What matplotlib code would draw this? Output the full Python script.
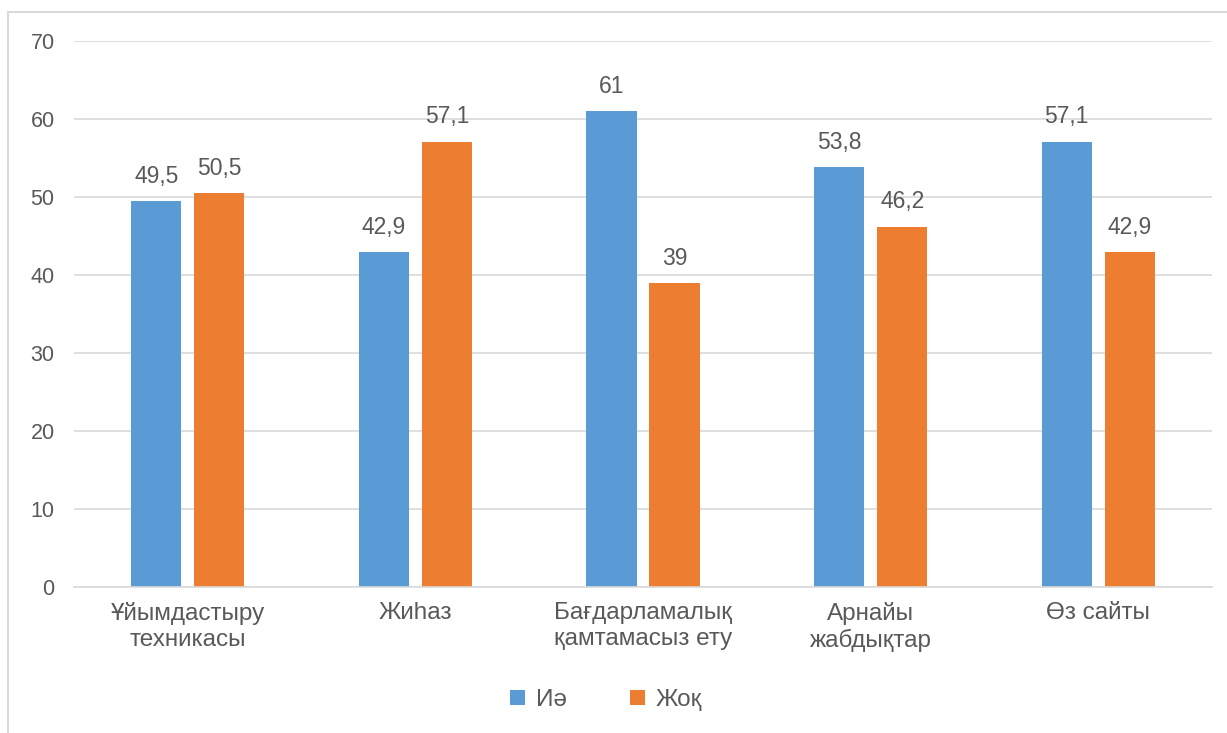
import numpy as np
import matplotlib.pyplot as plt
from matplotlib.patches import Rectangle

categories = ["Ұйымдастыру\nтехникасы", "Жиhаз", "Бағдарламалық\nқамтамасыз ету",
              "Арнайы\nжабдықтар", "Өз сайты"]
yes_vals = [49.5, 42.9, 61, 53.8, 57.1]
no_vals = [50.5, 57.1, 39, 46.2, 42.9]
series_names = ["Иә", "Жоқ"]

blue = "#5B9BD5"
orange = "#ED7D31"
text_color = "#595959"

plt.rcParams['font.family'] = ['Liberation Sans', 'DejaVu Sans']

fig = plt.figure(figsize=(12.27, 7.33), dpi=100, facecolor="white")
ax = fig.add_axes([0.0603, 0.1992, 0.9275, 0.7449])

# chart border
fig.patches.append(Rectangle((8 / 1227, -0.1), 1.2, 1 - 12 / 733 + 0.1,
                             transform=fig.transFigure, fill=False,
                             edgecolor="#D9D9D9", linewidth=1.5))

x = np.arange(len(categories))
w = 0.22
gap = 0.057
b1 = ax.bar(x - (w + gap) / 2, yes_vals, w, color=blue, label=series_names[0])
b2 = ax.bar(x + (w + gap) / 2, no_vals, w, color=orange, label=series_names[1])

def fmt(v):
    return (f"{v:g}").replace(".", ",")

for bars, vals in [(b1, yes_vals), (b2, no_vals)]:
    for rect, v in zip(bars, vals):
        ax.text(rect.get_x() + rect.get_width() / 2, v + 1.7, fmt(v),
                ha="center", va="bottom", fontsize=16.5, color=text_color)

ax.set_xlim(-0.5, len(categories) - 0.5)
ax.set_ylim(0, 70)
ax.set_yticks(range(0, 71, 10))
ax.set_xticks(x)
ax.set_xticklabels(categories, fontsize=17.5, color=text_color, linespacing=1.2)
ax.tick_params(axis="y", labelsize=15.5, labelcolor=text_color, length=0, pad=14)
ax.tick_params(axis="x", length=0, pad=11)
ax.grid(axis="y", color="#D9D9D9", linewidth=1.2)
ax.set_axisbelow(True)
for s in ["top", "right", "left"]:
    ax.spines[s].set_visible(False)
ax.spines["bottom"].set_color("#D9D9D9")
ax.spines["bottom"].set_linewidth(1.2)

leg = fig.legend(loc="center", bbox_to_anchor=(0.494, 1 - 700 / 733), ncol=2,
                 frameon=False, fontsize=17.5, handlelength=0.6, handleheight=0.6,
                 columnspacing=2.6, handletextpad=0.45)
for t in leg.get_texts():
    t.set_color(text_color)

fig.savefig("out.png", dpi=100, facecolor="white")
